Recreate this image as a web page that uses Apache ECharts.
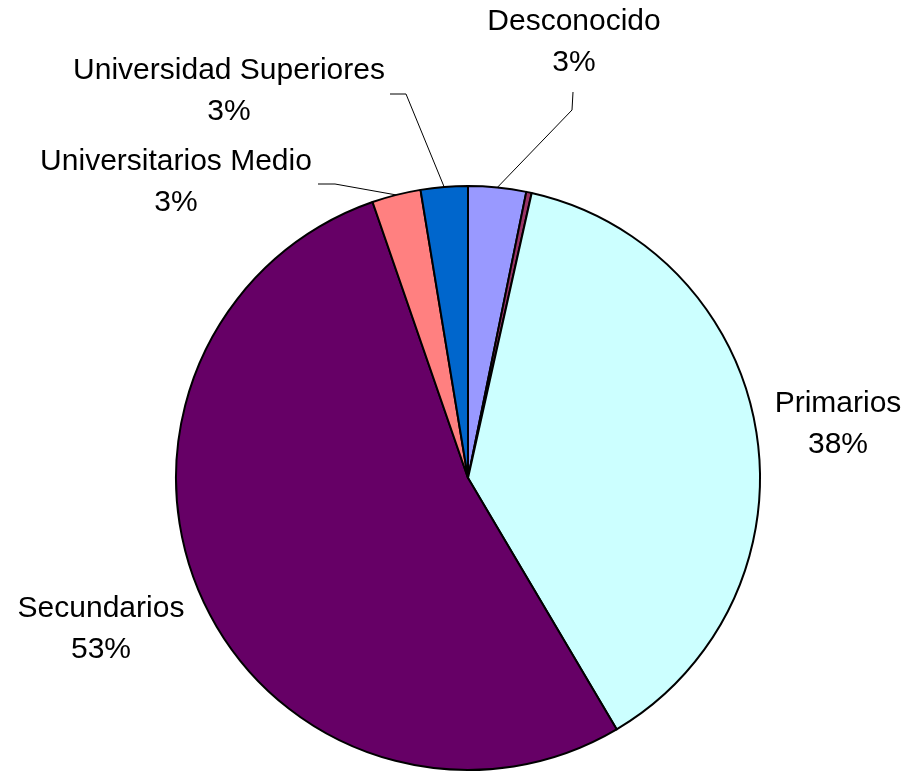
<!DOCTYPE html>
<html>
<head>
<meta charset="utf-8">
<script src="https://cdn.jsdelivr.net/npm/echarts@6/dist/echarts.min.js"></script>
<style>
html,body{margin:0;padding:0;background:#fff;}
#chart{width:909px;height:773px;}
</style>
</head>
<body>
<div id="chart"></div>
<script>
// Data
var categories = ['Desconocido', 'Otros', 'Primarios', 'Secundarios', 'Universitarios Medio', 'Universidad Superiores'];
var values = [3.2, 0.3, 38.0, 53.2, 2.7, 2.6];
var colors = ['#9999FF', '#993366', '#CCFFFF', '#660066', '#FF8080', '#0066CC'];

// Label layout (positions of label blocks and leader-line bends), separate from data
var labelPos = [
  {x: 574, y: 42, line: [[572, 110], [573, 92]]},
  null,
  {x: 838, y: 424, line: null},
  {x: 101, y: 629, line: null},
  {x: 176, y: 182, line: [[335, 184], [318, 184]]},
  {x: 229, y: 91, line: [[406, 94], [390, 94]]}
];

var chart = echarts.init(document.getElementById('chart'), null, {renderer: 'canvas'});
var data = categories.map(function (n, i) {
  var item = {name: n, value: values[i], itemStyle: {color: colors[i]}};
  if (!labelPos[i]) {
    item.label = {show: false};
    item.labelLine = {show: false};
  } else if (!labelPos[i].line) {
    item.labelLine = {show: false};
  }
  return item;
});

chart.setOption({
  animation: false,
  backgroundColor: '#ffffff',
  series: [{
    type: 'pie',
    center: [468, 478],
    radius: 292,
    startAngle: 90,
    clockwise: true,
    percentPrecision: 0,
    avoidLabelOverlap: false,
    data: data,
    itemStyle: {borderColor: '#000000', borderWidth: 2},
    label: {
      show: true,
      position: 'outside',
      formatter: '{b}\n{d}%',
      fontFamily: 'Liberation Sans, Arial, sans-serif',
      fontSize: 30,
      lineHeight: 41,
      color: '#000000',
      align: 'center'
    },
    labelLine: {show: true, length: 20, length2: 10, lineStyle: {color: '#000000', width: 1}},
    emphasis: {disabled: true},
    labelLayout: function (params) {
      var p = labelPos[params.dataIndex];
      if (!p) return {};
      var res = {x: p.x, y: p.y, align: 'center', verticalAlign: 'middle'};
      if (p.line && params.labelLinePoints) {
        res.labelLinePoints = [params.labelLinePoints[0], p.line[0], p.line[1]];
      }
      return res;
    }
  }]
});
</script>
</body>
</html>
